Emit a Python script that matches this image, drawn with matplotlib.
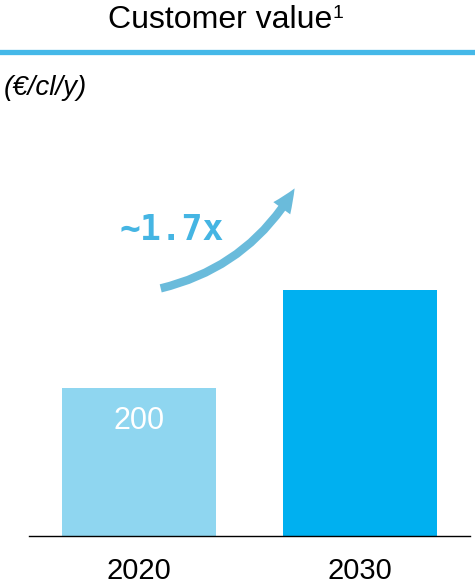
import matplotlib
matplotlib.use('Agg')
import matplotlib.pyplot as plt
from matplotlib.patches import FancyArrowPatch

# data
years = ['2020', '2030']
values = [200, 332]
value_labels = ['200', '']
bar_colors = ['#8FD6F0', '#00B0F0']

plt.rcParams['font.family'] = ['Liberation Sans', 'DejaVu Sans']

fig = plt.figure(figsize=(4.75, 5.85), dpi=100)

# axes: baseline at y=536 px, 0.74 px per unit
ax = fig.add_axes([29 / 475, 49 / 585, 441 / 475, 370 / 585])
x = range(len(years))
bars = ax.bar(x, values, width=0.7, color=bar_colors)
for bar, lab in zip(bars, value_labels):
    if lab:
        ax.text(bar.get_x() + bar.get_width() / 2, bar.get_height() - 44, lab,
                ha='center', va='center', color='white', fontsize=22)

ax.set_xlim(-0.5, 1.5)
ax.set_ylim(0, 500)
ax.set_xticks(list(x))
ax.set_xticklabels(years, fontsize=21)
ax.tick_params(axis='x', length=0, pad=15)
ax.set_yticks([])
for side in ['top', 'right', 'left']:
    ax.spines[side].set_visible(False)
ax.spines['bottom'].set_linewidth(1.0)

# header
fig.text(220 / 475, 1 - 20 / 585, 'Customer value', ha='center', va='center',
         fontsize=23)
fig.text(332 / 475, 1 - 13 / 585, '1', ha='left', va='center', fontsize=14)
fig.add_artist(plt.Line2D([0, 1], [1 - 51.5 / 585] * 2, color='#45B8E8', lw=3.8,
                          transform=fig.transFigure))
fig.text(4 / 475, 1 - 88 / 585, '(€/cl/y)', ha='left', va='center',
         fontsize=20, style='italic')

# growth arrow
arrow = FancyArrowPatch((158 / 475, 1 - 289 / 585), (296 / 475, 1 - 186 / 585),
                        transform=fig.transFigure,
                        connectionstyle='arc3,rad=0.22',
                        arrowstyle='simple,head_width=15,head_length=17,tail_width=6',
                        color='#5AB4D8', alpha=0.9, lw=0)
fig.add_artist(arrow)
fig.text(172 / 475, 1 - 230 / 585, '~1.7x', ha='center', va='center',
         fontsize=25, fontweight='bold', color='#45B5E3',
         family='DejaVu Sans Mono')

fig.savefig('out.png', dpi=100)
